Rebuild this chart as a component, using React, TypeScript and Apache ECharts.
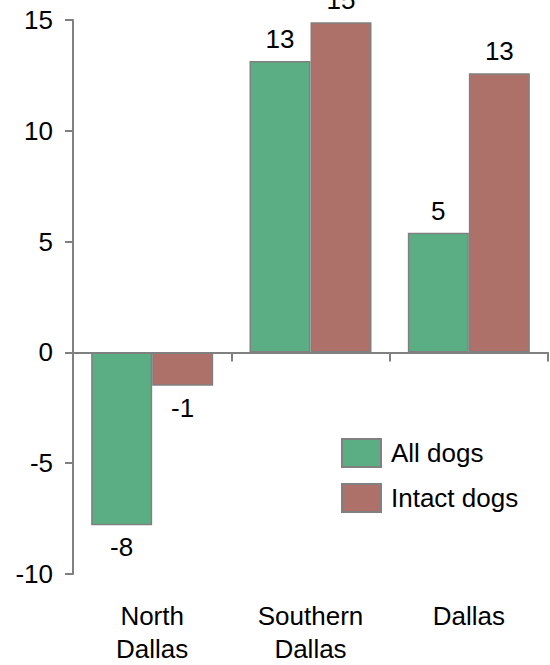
import React, { useEffect, useRef } from "react";
import * as echarts from "echarts";

const categories = ["North\nDallas", "Southern\nDallas", "Dallas"];
const seriesNames = ["All dogs", "Intact dogs"];
const allDogs = [-7.8, 13.15, 5.4];
const intactDogs = [-1.5, 14.9, 12.6];
const yTicks = { min: -10, max: 15, interval: 5 };

const FONT = "'Liberation Sans', Arial, sans-serif";
const GREEN = "#5BAE84";
const RED = "#AE716A";
const GREY = "#808080";
const FS = 26;

function toData(vals: number[]) {
  return vals.map((v) =>
    v < 0 ? { value: v, label: { position: "bottom" } } : { value: v }
  );
}

export default function App() {
  const ref = useRef<HTMLDivElement>(null);
  useEffect(() => {
    document.body.style.margin = "0";
    const chart = echarts.init(ref.current!, null, { renderer: "svg" });
    const labelCfg = {
      show: true,
      position: "top",
      distance: 9,
      fontSize: FS,
      fontFamily: FONT,
      color: "#000",
      formatter: (p: any) => String(Math.round(p.value)),
    };
    chart.setOption({
      animation: false,
      textStyle: { fontFamily: FONT },
      grid: { left: 73, right: 2, top: 20, bottom: 87 },
      legend: {
        orient: "vertical",
        left: 341,
        top: 438,
        padding: 0,
        itemWidth: 39,
        itemHeight: 28,
        itemGap: 15,
        icon: "rect",
        textStyle: { fontSize: FS, fontFamily: FONT, color: "#000", padding: [0, 0, 0, 5] },
        data: seriesNames,
      },
      xAxis: [
        {
          type: "category",
          data: categories,
          axisLine: { onZero: true, lineStyle: { color: GREY, width: 2 } },
          axisTick: { show: true, length: 9, lineStyle: { color: GREY, width: 2 } },
          axisLabel: { show: false },
        },
        {
          type: "category",
          data: categories,
          position: "bottom",
          axisLine: { show: false, onZero: false },
          axisTick: { show: false },
          axisLabel: {
            show: true,
            fontSize: FS,
            fontFamily: FONT,
            color: "#000",
            lineHeight: 33,
            margin: 25,
          },
        },
      ],
      yAxis: {
        type: "value",
        min: yTicks.min,
        max: yTicks.max,
        interval: yTicks.interval,
        splitLine: { show: false },
        axisLine: { show: true, lineStyle: { color: GREY, width: 2 } },
        axisTick: { show: true, length: 8, lineStyle: { color: GREY, width: 2 } },
        axisLabel: { fontSize: FS, fontFamily: FONT, color: "#000", margin: 20 },
      },
      series: [
        {
          name: seriesNames[0],
          type: "bar",
          xAxisIndex: 0,
          data: toData(allDogs),
          barWidth: 61,
          barGap: "0%",
          itemStyle: { color: GREEN, borderColor: GREY, borderWidth: 1.5 },
          label: labelCfg,
        },
        {
          name: seriesNames[1],
          type: "bar",
          xAxisIndex: 0,
          data: toData(intactDogs),
          barWidth: 61,
          barGap: "0%",
          itemStyle: { color: RED, borderColor: GREY, borderWidth: 1.5 },
          label: labelCfg,
        },
      ],
    });
    return () => chart.dispose();
  }, []);
  return <div ref={ref} style={{ width: 550, height: 665 }} />;
}
